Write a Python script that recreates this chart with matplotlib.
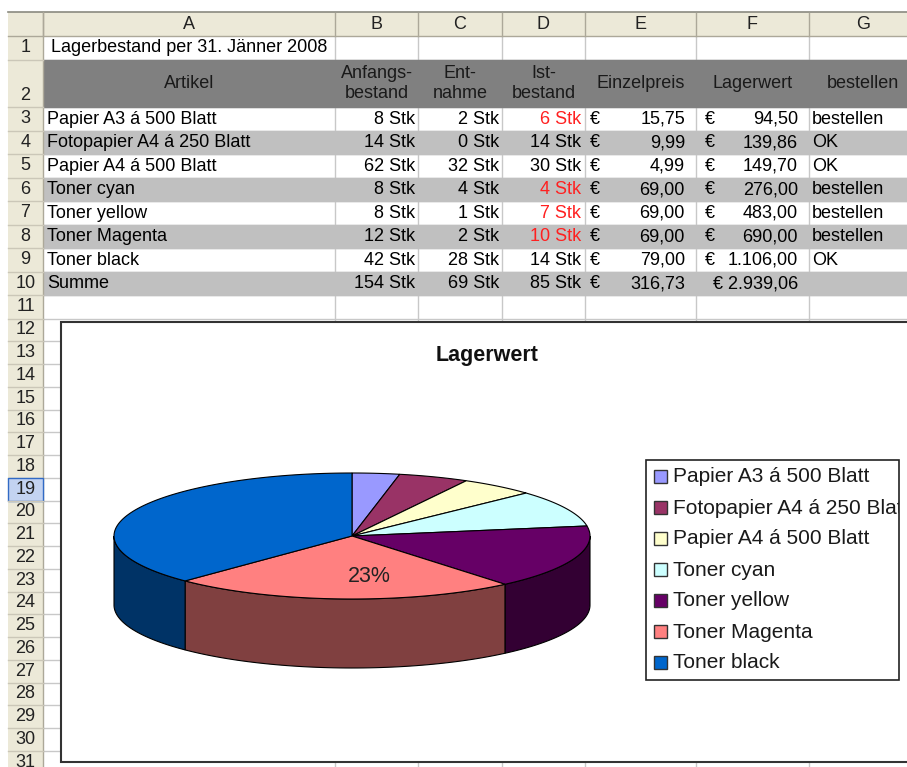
import numpy as np
import matplotlib
matplotlib.use('Agg')
import matplotlib.pyplot as plt
from matplotlib.patches import Rectangle, Polygon
from matplotlib.colors import to_rgb

plt.rcParams['font.family'] = ['Liberation Sans', 'DejaVu Sans']

# --- data -------------------------------------------------------------
title_cell = ' Lagerbestand per 31. Jänner 2008'
headers = ['Artikel', 'Anfangs-\nbestand', 'Ent-\nnahme', 'Ist-\nbestand',
           'Einzelpreis', 'Lagerwert', 'bestellen']
artikel = ['Papier A3 á 500 Blatt', 'Fotopapier A4 á 250 Blatt', 'Papier A4 á 500 Blatt',
           'Toner cyan', 'Toner yellow', 'Toner Magenta', 'Toner black']
anfang = [8, 14, 62, 8, 8, 12, 42]
entnahme = [2, 0, 32, 4, 1, 2, 28]
ist = [6, 14, 30, 4, 7, 10, 14]
einzelpreis = [15.75, 9.99, 4.99, 69.00, 69.00, 69.00, 79.00]
lagerwert = [94.50, 139.86, 149.70, 276.00, 483.00, 690.00, 1106.00]
bestellen = ['bestellen', 'OK', 'OK', 'bestellen', 'bestellen', 'bestellen', 'OK']
pie_colors = ['#9999ff', '#993366', '#ffffcc', '#ccffff', '#660066', '#ff8080', '#0066cc']
chart_title = 'Lagerwert'

col_letters = ['A', 'B', 'C', 'D', 'E', 'F', 'G']
col_edges = [43, 335, 418, 502, 585, 696, 809, 917]


def eur(v):
    s = f'{v:,.2f}'
    return s.replace(',', 'X').replace('.', ',').replace('X', '.')


# row boundaries in pixels
row_top = {1: 36, 2: 60}
for r in range(3, 12):
    row_top[r] = 107 + (r - 3) * 23.5
for r in range(12, 33):
    row_top[r] = 318.5 + (r - 12) * 22.75


def rt(r):
    return row_top[r]


def rb(r):
    return row_top[r + 1]


fig = plt.figure(figsize=(9.07, 7.67), dpi=100)
ax = fig.add_axes([0, 0, 1, 1])
ax.set_xlim(0, 907)
ax.set_ylim(767, 0)
ax.axis('off')

FS = 13
grid = '#c8c8c8'

# gridlines
for r in range(2, 32):
    ax.plot([43, 907], [rt(r), rt(r)], color=grid, lw=1, zorder=1)
for x in col_edges[1:-1]:
    ax.plot([x, x], [36, 767], color=grid, lw=1, zorder=1)

# fills
ax.add_patch(Rectangle((43, rt(2)), 917 - 43, rb(2) - rt(2), color='#808080', zorder=2))
for r in [4, 6, 8, 10]:
    ax.add_patch(Rectangle((43, rt(r)), 917 - 43, rb(r) - rt(r), color='#c0c0c0', zorder=2))

# column header
ax.add_patch(Rectangle((8, 12), 907, 24, facecolor='#ece9d8', edgecolor='none', zorder=3))
ax.plot([8, 907], [12, 12], color='#8a8a80', lw=1.2, zorder=4)
ax.plot([8, 907], [36, 36], color='#aca899', lw=1, zorder=4)
for x in col_edges[:-1]:
    ax.plot([x, x], [13, 36], color='#aca899', lw=1, zorder=4)
for i, c in enumerate(col_letters):
    ax.text((col_edges[i] + col_edges[i + 1]) / 2, 24.5, c, ha='center', va='center',
            fontsize=FS, color='#222222', zorder=5)

# row header
ax.add_patch(Rectangle((8, 36), 35, 767, facecolor='#ece9d8', edgecolor='none', zorder=3))
ax.plot([43, 43], [12, 767], color='#aca899', lw=1, zorder=4)
for r in range(1, 32):
    if r == 19:
        ax.add_patch(Rectangle((8, rt(r)), 35, rb(r) - rt(r), facecolor='#c3d3f1',
                               edgecolor='#316ac5', lw=1, zorder=4))
    ax.plot([8, 43], [rb(r), rb(r)], color='#cbc7b8', lw=1, zorder=4)
    y = (rt(r) + rb(r)) / 2 if r != 2 else rb(r) - 11
    ax.text(25.5, y, str(r), ha='center', va='center', fontsize=FS, color='#222222', zorder=5)

# row 1 title
ax.text(46, (rt(1) + rb(1)) / 2, title_cell, ha='left', va='center', fontsize=FS, zorder=5)

# row 2 headers
for i, h in enumerate(headers):
    ax.text((col_edges[i] + col_edges[i + 1]) / 2, (rt(2) + rb(2)) / 2, h, ha='center',
            va='center', fontsize=FS, color='#1a1a1a', linespacing=1.2, zorder=5)

# body rows 3..9
for k in range(len(artikel)):
    r = k + 3
    y = (rt(r) + rb(r)) / 2 + 0.5
    ax.text(47, y, artikel[k], ha='left', va='center', fontsize=FS, zorder=5)
    ax.text(col_edges[2] - 3, y, f'{anfang[k]} Stk', ha='right', va='center', fontsize=FS, zorder=5)
    ax.text(col_edges[3] - 3, y, f'{entnahme[k]} Stk', ha='right', va='center', fontsize=FS, zorder=5)
    ax.text(col_edges[4] - 4, y, f'{ist[k]} Stk', ha='right', va='center', fontsize=FS,
            color='#ff2020' if bestellen[k] == 'bestellen' else 'black', zorder=5)
    ax.text(col_edges[4] + 5, y, '€', ha='left', va='center', fontsize=FS, zorder=5)
    ax.text(col_edges[5] - 11, y, eur(einzelpreis[k]), ha='right', va='center', fontsize=FS, zorder=5)
    ax.text(col_edges[5] + 9, y, '€', ha='left', va='center', fontsize=FS, zorder=5)
    ax.text(col_edges[6] - 11, y, eur(lagerwert[k]), ha='right', va='center', fontsize=FS, zorder=5)
    ax.text(col_edges[6] + 3, y, bestellen[k], ha='left', va='center', fontsize=FS, zorder=5)

# sum row
y = (rt(10) + rb(10)) / 2 + 0.5
ax.text(47, y, 'Summe', ha='left', va='center', fontsize=FS, zorder=5)
ax.text(col_edges[2] - 3, y, f'{sum(anfang)} Stk', ha='right', va='center', fontsize=FS, zorder=5)
ax.text(col_edges[3] - 3, y, f'{sum(entnahme)} Stk', ha='right', va='center', fontsize=FS, zorder=5)
ax.text(col_edges[4] - 4, y, f'{sum(ist)} Stk', ha='right', va='center', fontsize=FS, zorder=5)
ax.text(col_edges[4] + 5, y, '€', ha='left', va='center', fontsize=FS, zorder=5)
ax.text(col_edges[5] - 11, y, eur(sum(einzelpreis)), ha='right', va='center', fontsize=FS, zorder=5)
ax.text(col_edges[6] - 11, y, '€ ' + eur(sum(lagerwert)), ha='right', va='center', fontsize=FS, zorder=5)

# --- chart ------------------------------------------------------------
ax.add_patch(Rectangle((61, 322), 900, 440, facecolor='white', edgecolor='#333333',
                       lw=1.5, zorder=6))
ax.text(487, 355, chart_title, ha='center', va='center', fontsize=15.5,
        fontweight='bold', color='#111111', zorder=7)

cx, cy, a, b, depth = 352, 536, 238, 63, 69
vals = np.array(lagerwert)
bounds = np.concatenate([[0], np.cumsum(vals) / vals.sum()]) * 2 * np.pi


def pt(t, dy=0):
    return cx + a * np.sin(t), cy - b * np.cos(t) + dy


# side walls (front half only)
for k in range(len(vals)):
    t0, t1 = max(bounds[k], np.pi / 2), min(bounds[k + 1], 1.5 * np.pi)
    if t1 <= t0:
        continue
    ts = np.linspace(t0, t1, 60)
    xs, ys = pt(ts)
    top = np.column_stack([xs, ys])
    bot = np.column_stack([xs, ys + depth])[::-1]
    dark = tuple(c * 0.5 for c in to_rgb(pie_colors[k]))
    ax.add_patch(Polygon(np.vstack([top, bot]), closed=True, facecolor=dark,
                         edgecolor='black', lw=0.8, zorder=7))

# top face
for k in range(len(vals)):
    ts = np.linspace(bounds[k], bounds[k + 1], 100)
    xs, ys = pt(ts)
    poly = np.vstack([[cx, cy], np.column_stack([xs, ys])])
    ax.add_patch(Polygon(poly, closed=True, facecolor=pie_colors[k], edgecolor='black',
                         lw=0.8, zorder=8))

# data label for Toner Magenta
k = artikel.index('Toner Magenta')
tm = (bounds[k] + bounds[k + 1]) / 2
lx, ly = pt(tm)
pct = vals[k] / vals.sum() * 100
ax.text(cx + 0.65 * (lx - cx) + 0.1 * a, cy + 0.65 * (ly - cy), f'{pct:.0f}%',
        ha='center', va='center', fontsize=15.5, color='#222222', zorder=9)

# legend (long entry is cut at the box edge, like in Excel)
leg_x0, leg_y0, leg_x1, leg_y1 = 646, 460, 899, 680
ax.add_patch(Rectangle((leg_x0, leg_y0), leg_x1 - leg_x0, leg_y1 - leg_y0,
                       facecolor='white', edgecolor='none', zorder=9))
for k in range(len(artikel)):
    y = 476 + k * 31
    ax.add_patch(Rectangle((654, y - 6.5), 13, 13, facecolor=pie_colors[k],
                           edgecolor='#333333', lw=1, zorder=10))
    ax.text(673, y + 1, artikel[k], ha='left', va='center', fontsize=15,
            color='#1a1a1a', zorder=10)
ax.add_patch(Rectangle((leg_x1, leg_y0 + 1), 20, leg_y1 - leg_y0 - 2,
                       facecolor='white', edgecolor='none', zorder=11))
ax.add_patch(Rectangle((leg_x0, leg_y0), leg_x1 - leg_x0, leg_y1 - leg_y0,
                       facecolor='none', edgecolor='#222222', lw=1.2, zorder=12))

fig.savefig('out.png', dpi=100)
